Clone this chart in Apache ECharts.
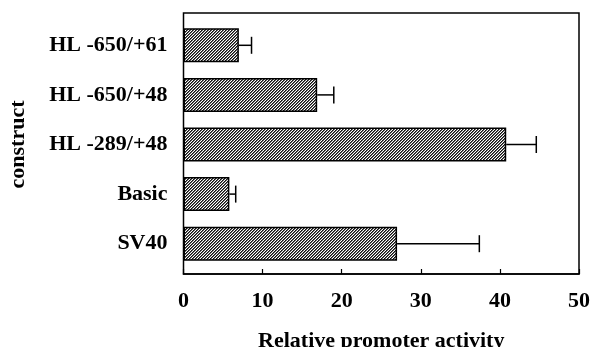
<!DOCTYPE html>
<html><head><meta charset="utf-8">
<script src="https://cdn.jsdelivr.net/npm/echarts@6/dist/echarts.min.js"></script>
<style>html,body{margin:0;padding:0;background:#fff}#c{width:591px;height:347px}</style>
</head><body><div id="c"></div>
<script>
const categories = ['HL -650/+61', 'HL -650/+48', 'HL -289/+48', 'Basic', 'SV40'];
const values = [7.0, 16.9, 40.8, 5.8, 27.0];
const errors = [1.6, 2.1, 3.8, 0.8, 10.4];
const xTicks = [0, 10, 20, 30, 40, 50];

const FONT = 'Liberation Serif';
const tile = document.createElement('canvas');
tile.width = 3; tile.height = 3;
const tctx = tile.getContext('2d');
tctx.fillStyle = '#fff'; tctx.fillRect(0, 0, 3, 3);
for (let x = 0; x < 3; x++) for (let y = 0; y < 3; y++) {
  const k = (x + y) % 3;
  if (k === 0) { tctx.fillStyle = '#111'; tctx.fillRect(x, y, 1, 1); }
  else if (k === 1) { tctx.fillStyle = '#666'; tctx.fillRect(x, y, 1, 1); }
}

const chart = echarts.init(document.getElementById('c'), null, {renderer: 'canvas'});
const L = 183.5, R = 12;
chart.setOption({
  animation: false,
  backgroundColor: '#fff',
  grid: [
    {left: L, right: R, top: 20.5, height: 248, show: false, containLabel: false, outerBoundsMode: 'none'},
    {left: L, right: R, top: 13, bottom: 73, show: true, borderColor: '#000', borderWidth: 1.5, backgroundColor: 'transparent', containLabel: false, outerBoundsMode: 'none'}
  ],
  xAxis: [
    {gridIndex: 0, type: 'value', min: 0, max: 50, show: false},
    {gridIndex: 1, type: 'value', min: xTicks[0], max: xTicks[xTicks.length - 1], interval: 10,
     splitLine: {show: false},
     axisLine: {show: true, lineStyle: {color: '#000', width: 1.5}},
     axisTick: {show: true, inside: true, length: 5, lineStyle: {color: '#000', width: 1.2}},
     axisLabel: {color: '#000', fontFamily: FONT, fontWeight: 'bold', fontSize: 22, margin: 16},
     name: 'Relative promoter activity', nameLocation: 'middle', nameGap: 56,
     nameTextStyle: {color: '#000', fontFamily: FONT, fontWeight: 'bold', fontSize: 22}},
  ],
  yAxis: [
    {gridIndex: 0, type: 'category', data: categories, inverse: true,
     axisLine: {show: false}, axisTick: {show: false},
     axisLabel: {color: '#000', fontFamily: FONT, fontWeight: 'bold', fontSize: 22, margin: 16},
     name: 'construct', nameLocation: 'middle', nameGap: 154, nameRotate: 90,
     nameTextStyle: {color: '#000', fontFamily: FONT, fontWeight: 'bold', fontSize: 22}},
    {gridIndex: 1, type: 'value', show: false}
  ],
  series: [
    {type: 'bar', xAxisIndex: 0, yAxisIndex: 0, data: values, barWidth: 34,
     itemStyle: {color: {image: tile, repeat: 'repeat'}, borderColor: '#000', borderWidth: 1.5}},
    {type: 'custom', xAxisIndex: 0, yAxisIndex: 0,
     data: values.map((v, i) => [i, v, v + errors[i]]),
     encode: {x: [1, 2], y: 0},
     renderItem: function (params, api) {
       const i = api.value(0);
       const a = api.coord([api.value(1), i]);
       const b = api.coord([api.value(2), i]);
       const h = 8.5;
       return {type: 'group', children: [
         {type: 'line', shape: {x1: a[0], y1: a[1], x2: b[0], y2: b[1]}, style: {stroke: '#000', lineWidth: 1.5}},
         {type: 'line', shape: {x1: b[0], y1: b[1] - h, x2: b[0], y2: b[1] + h}, style: {stroke: '#000', lineWidth: 1.5}}
       ]};
     }}
  ]
});
</script></body></html>
